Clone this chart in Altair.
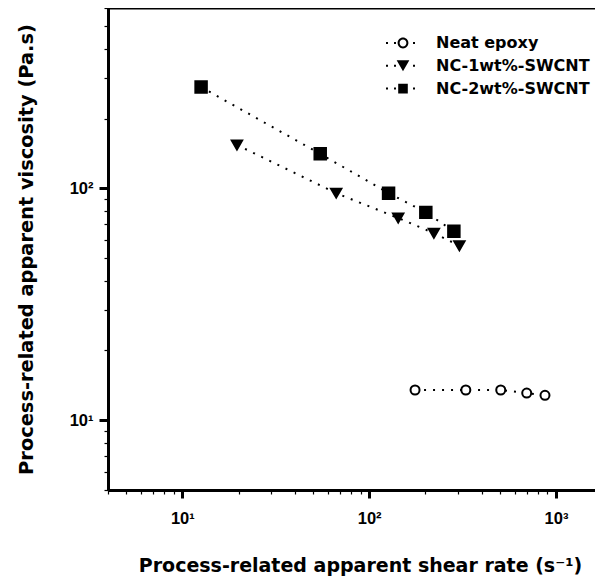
import altair as alt
import pandas as pd

# ---- data ----
series_names = ["Neat epoxy", "NC-1wt%-SWCNT", "NC-2wt%-SWCNT"]

neat_rate = [176, 329, 506, 697, 873]
neat_visc = [13.5, 13.5, 13.5, 13.1, 12.8]

nc1_rate = [19.6, 66.6, 143, 222, 304]
nc1_visc = [154, 95.4, 74.5, 64.1, 56.6]

nc2_rate = [12.6, 54.7, 127, 201, 284]
nc2_visc = [273.5, 141, 95.4, 78.8, 65.3]

x_tick_values = [4, 5, 6, 7, 8, 9, 10, 20, 30, 40, 50, 60, 70, 80, 90,
                 100, 200, 300, 400, 500, 600, 700, 800, 900, 1000]
y_tick_values = [5, 6, 7, 8, 9, 10, 20, 30, 40, 50, 60, 70, 80, 90,
                 100, 200, 300, 400, 500, 600]
x_domain = [4, 1617]
y_domain = [5, 600]

rows = []
for name, rates, viscs in [
    (series_names[0], neat_rate, neat_visc),
    (series_names[1], nc1_rate, nc1_visc),
    (series_names[2], nc2_rate, nc2_visc),
]:
    for i, (r, v) in enumerate(zip(rates, viscs)):
        rows.append({"series": name, "idx": i, "rate": r, "visc": v})
df = pd.DataFrame(rows)

TITLE_FONT = "DejaVu Sans"
LABEL_FONT = "Liberation Sans"

major = "(datum.value == 10 || datum.value == 100 || datum.value == 1000)"
sup_expr = ("datum.value == 10 ? '10\u00b9' : datum.value == 100 ? '10\u00b2' : "
            "datum.value == 1000 ? '10\u00b3' : ''")

x_axis = alt.Axis(
    values=x_tick_values,
    labelExpr=sup_expr,
    title="Process-related apparent shear rate (s\u207b\u00b9)",
    titleX=252, titleY=81, titleAlign="center", titleBaseline="alphabetic",
    titleAngle=0, titleFontSize=19,
    tickSize={"condition": {"test": major, "value": 8}, "value": 4},
    tickWidth={"condition": {"test": major, "value": 3}, "value": 1.2},
    labelPadding=12,
    labelFlush=False,
    labelOverlap=False,
)
y_axis = alt.Axis(
    values=y_tick_values,
    labelExpr=sup_expr,
    title="Process-related apparent viscosity (Pa.s)",
    titleX=-76, titleY=241, titleAngle=270, titleAlign="center",
    titleBaseline="alphabetic", titleFontSize=19.4,
    tickSize={"condition": {"test": major, "value": 9}, "value": 4},
    tickWidth={"condition": {"test": major, "value": 3}, "value": 1.2},
    labelPadding=6,
    labelFlush=False,
    labelOverlap=False,
)

x_scale = alt.Scale(type="log", domain=x_domain, nice=False)
y_scale = alt.Scale(type="log", domain=y_domain, nice=False)

# legend symbols: dotted line + marker, as custom filled paths (unit = 5 px)
dots = ("M-3.4,-0.2h0.4v0.4h-0.4z M-1.8,-0.2h0.4v0.4h-0.4z "
        "M2.0,-0.2h0.4v0.4h-0.4z ")
p_circle = dots + ("M-1.08,0 A1.08,1.08 0 1,1 1.08,0 A1.08,1.08 0 1,1 -1.08,0 Z "
                   "M-0.68,0 A0.68,0.68 0 1,0 0.68,0 A0.68,0.68 0 1,0 -0.68,0 Z")
p_tri = dots + "M-1.27,-1.1 L1.27,-1.1 L0,1.1 Z"
p_sq = dots + "M-0.96,-0.96 L0.96,-0.96 L0.96,0.96 L-0.96,0.96 Z"

legend = alt.Legend(
    title=None,
    orient="none",
    legendX=287,
    legendY=27,
    symbolSize=100,
    symbolStrokeWidth=0,
    symbolFillColor="black",
    symbolOpacity=1,
    labelFont=TITLE_FONT,
    labelFontWeight="bold",
    labelFontSize=16,
    labelColor="black",
    labelOffset=25,
    labelLimit=400,
    rowPadding=6.8,
)

base = alt.Chart(df)

lines = base.mark_line(
    strokeDash=[2, 7], strokeWidth=2, color="black", clip=True
).encode(
    x=alt.X("rate:Q", scale=x_scale, axis=x_axis),
    y=alt.Y("visc:Q", scale=y_scale, axis=y_axis),
    detail="series:N",
    order="idx:Q",
)

points = base.mark_point(
    stroke="black", strokeWidth=2, opacity=1, clip=True
).encode(
    x=alt.X("rate:Q", scale=x_scale),
    y=alt.Y("visc:Q", scale=y_scale),
    shape=alt.Shape("series:N",
                    scale=alt.Scale(domain=series_names,
                                    range=["circle", "triangle-down", "square"]),
                    legend=None),
    fill=alt.Fill("series:N",
                  scale=alt.Scale(domain=series_names,
                                  range=["white", "black", "black"]),
                  legend=None),
    size=alt.Size("series:N",
                  scale=alt.Scale(domain=series_names, range=[81, 132, 110]),
                  legend=None),
)

# legend-only layer (no marks drawn), symbols = dotted line + marker
legend_layer = base.transform_filter("false").mark_point(
    filled=True, color="black", opacity=1
).encode(
    x=alt.X("rate:Q", scale=x_scale),
    y=alt.Y("visc:Q", scale=y_scale),
    shape=alt.Shape("series:N",
                    scale=alt.Scale(domain=series_names,
                                    range=[p_circle, p_tri, p_sq]),
                    legend=legend),
)

top_border = alt.Chart(pd.DataFrame({"visc": [y_domain[1]]})).mark_rule(
    color="black", strokeWidth=3
).encode(y=alt.Y("visc:Q", scale=y_scale))

chart = alt.layer(lines, points, legend_layer, top_border).resolve_scale(
    shape="independent"
).properties(
    width=487,
    height=482,
    autosize=alt.AutoSizeParams(type="none"),
    padding={"left": 100, "top": 0, "right": 0, "bottom": 86},
    background="white",
).configure_view(stroke=None).configure_axis(
    grid=False,
    domainColor="black",
    domainWidth=3,
    tickColor="black",
    labelFont=LABEL_FONT,
    labelFontWeight="bold",
    labelFontSize=16.5,
    labelColor="black",
    titleFont=TITLE_FONT,
    titleFontWeight="bold",
    titleColor="black",
)

chart.save("out.html", embed_options={"renderer": "svg", "actions": False})
